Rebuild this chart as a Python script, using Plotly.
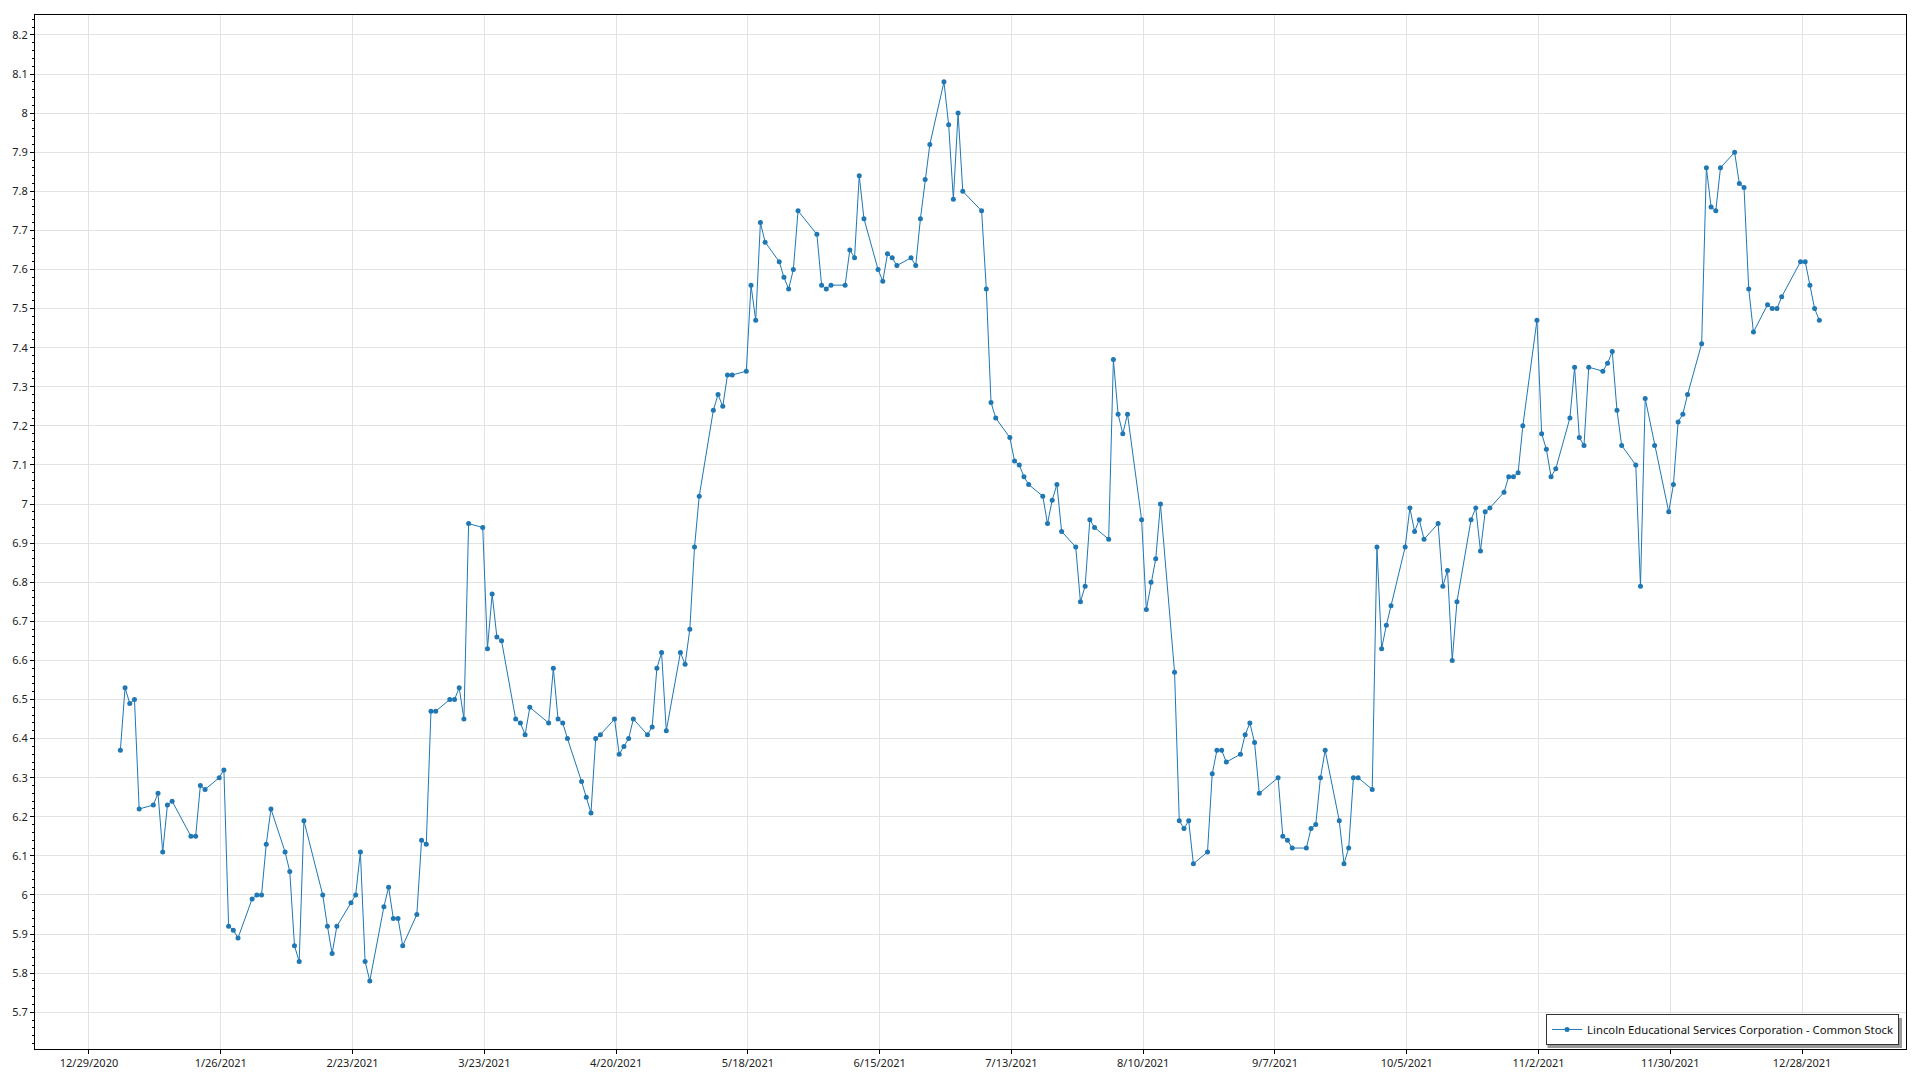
import plotly.graph_objects as go

# ---- data: closing prices by month (trading day, price) ----
jan_days = [4, 5, 6, 7, 8, 11, 12, 13, 14, 15, 19, 20, 21, 22, 25, 26, 27, 28, 29]
jan_close = [6.37, 6.53, 6.49, 6.50, 6.22, 6.23, 6.26, 6.11, 6.23, 6.24, 6.15, 6.15, 6.28, 6.27, 6.30, 6.32, 5.92, 5.91, 5.89]
feb_days = [1, 2, 3, 4, 5, 8, 9, 10, 11, 12, 16, 17, 18, 19, 22, 23, 24, 25, 26]
feb_close = [5.99, 6.00, 6.00, 6.13, 6.22, 6.11, 6.06, 5.87, 5.83, 6.19, 6.00, 5.92, 5.85, 5.92, 5.98, 6.00, 6.11, 5.83, 5.78]
mar_days = [1, 2, 3, 4, 5, 8, 9, 10, 11, 12, 15, 16, 17, 18, 19, 22, 23, 24, 25, 26, 29, 30, 31]
mar_close = [5.97, 6.02, 5.94, 5.94, 5.87, 5.95, 6.14, 6.13, 6.47, 6.47, 6.50, 6.50, 6.53, 6.45, 6.95, 6.94, 6.63, 6.77, 6.66, 6.65, 6.45, 6.44, 6.41]
apr_days = [1, 5, 6, 7, 8, 9, 12, 13, 14, 15, 16, 19, 20, 21, 22, 23, 26, 27, 28, 29, 30]
apr_close = [6.48, 6.44, 6.58, 6.45, 6.44, 6.40, 6.29, 6.25, 6.21, 6.40, 6.41, 6.45, 6.36, 6.38, 6.40, 6.45, 6.41, 6.43, 6.58, 6.62, 6.42]
may_days = [3, 4, 5, 6, 7, 10, 11, 12, 13, 14, 17, 18, 19, 20, 21, 24, 25, 26, 27, 28]
may_close = [6.62, 6.59, 6.68, 6.89, 7.02, 7.24, 7.28, 7.25, 7.33, 7.33, 7.34, 7.56, 7.47, 7.72, 7.67, 7.62, 7.58, 7.55, 7.60, 7.75]
jun_days = [1, 2, 3, 4, 7, 8, 9, 10, 11, 14, 15, 16, 17, 18, 21, 22, 23, 24, 25, 28, 29, 30]
jun_close = [7.69, 7.56, 7.55, 7.56, 7.56, 7.65, 7.63, 7.84, 7.73, 7.60, 7.57, 7.64, 7.63, 7.61, 7.63, 7.61, 7.73, 7.83, 7.92, 8.08, 7.97, 7.78]
jul_days = [1, 2, 6, 7, 8, 9, 12, 13, 14, 15, 16, 19, 20, 21, 22, 23, 26, 27, 28, 29, 30]
jul_close = [8.00, 7.80, 7.75, 7.55, 7.26, 7.22, 7.17, 7.11, 7.10, 7.07, 7.05, 7.02, 6.95, 7.01, 7.05, 6.93, 6.89, 6.75, 6.79, 6.96, 6.94]
aug_days = [2, 3, 4, 5, 6, 9, 10, 11, 12, 13, 16, 17, 18, 19, 20, 23, 24, 25, 26, 27, 30, 31]
aug_close = [6.91, 7.37, 7.23, 7.18, 7.23, 6.96, 6.73, 6.80, 6.86, 7.00, 6.57, 6.19, 6.17, 6.19, 6.08, 6.11, 6.31, 6.37, 6.37, 6.34, 6.36, 6.41]
sep_days = [1, 2, 3, 7, 8, 9, 10, 13, 14, 15, 16, 17, 20, 21, 22, 23, 24, 27, 28, 29, 30]
sep_close = [6.44, 6.39, 6.26, 6.30, 6.15, 6.14, 6.12, 6.12, 6.17, 6.18, 6.30, 6.37, 6.19, 6.08, 6.12, 6.30, 6.30, 6.27, 6.89, 6.63, 6.69]
oct_days = [1, 4, 5, 6, 7, 8, 11, 12, 13, 14, 15, 18, 19, 20, 21, 22, 25, 26, 27, 28, 29]
oct_close = [6.74, 6.89, 6.99, 6.93, 6.96, 6.91, 6.95, 6.79, 6.83, 6.60, 6.75, 6.96, 6.99, 6.88, 6.98, 6.99, 7.03, 7.07, 7.07, 7.08, 7.20]
nov_days = [1, 2, 3, 4, 5, 8, 9, 10, 11, 12, 15, 16, 17, 18, 19, 22, 23, 24, 26, 29, 30]
nov_close = [7.47, 7.18, 7.14, 7.07, 7.09, 7.22, 7.35, 7.17, 7.15, 7.35, 7.34, 7.36, 7.39, 7.24, 7.15, 7.10, 6.79, 7.27, 7.15, 6.98, 7.05]
dec_days = [1, 2, 3, 6, 7, 8, 9, 10, 13, 14, 15, 16, 17, 20, 21, 22, 23, 27, 28, 29, 30, 31]
dec_close = [7.21, 7.23, 7.28, 7.41, 7.86, 7.76, 7.75, 7.86, 7.90, 7.82, 7.81, 7.55, 7.44, 7.51, 7.50, 7.50, 7.53, 7.62, 7.62, 7.56, 7.50, 7.47]

x_tick_vals = ["2020-12-29", "2021-01-26", "2021-02-23", "2021-03-23", "2021-04-20",
               "2021-05-18", "2021-06-15", "2021-07-13", "2021-08-10", "2021-09-07",
               "2021-10-05", "2021-11-02", "2021-11-30", "2021-12-28"]
x_tick_text = ["12/29/2020", "1/26/2021", "2/23/2021", "3/23/2021", "4/20/2021",
               "5/18/2021", "6/15/2021", "7/13/2021", "8/10/2021", "9/7/2021",
               "10/5/2021", "11/2/2021", "11/30/2021", "12/28/2021"]
y_tick_vals = [5.7, 5.8, 5.9, 6.0, 6.1, 6.2, 6.3, 6.4, 6.5, 6.6, 6.7, 6.8, 6.9,
               7.0, 7.1, 7.2, 7.3, 7.4, 7.5, 7.6, 7.7, 7.8, 7.9, 8.0, 8.1, 8.2]
y_tick_text = ["5.7", "5.8", "5.9", "6", "6.1", "6.2", "6.3", "6.4", "6.5", "6.6", "6.7",
               "6.8", "6.9", "7", "7.1", "7.2", "7.3", "7.4", "7.5", "7.6", "7.7", "7.8",
               "7.9", "8", "8.1", "8.2"]

series_name = "Lincoln Educational Services Corporation - Common Stock"

months = [(1, jan_days, jan_close), (2, feb_days, feb_close), (3, mar_days, mar_close),
          (4, apr_days, apr_close), (5, may_days, may_close), (6, jun_days, jun_close),
          (7, jul_days, jul_close), (8, aug_days, aug_close), (9, sep_days, sep_close),
          (10, oct_days, oct_close), (11, nov_days, nov_close), (12, dec_days, dec_close)]

dates, prices = [], []
for m, ds, cs in months:
    for d, c in zip(ds, cs):
        dates.append(f"2021-{m:02d}-{d:02d} 16:00")  # market close time
        prices.append(c)

blue = "#1f77b4"
font = "Noto Sans, Open Sans, sans-serif"

fig = go.Figure()
fig.add_trace(go.Scatter(
    x=dates, y=prices, mode="lines+markers", name=series_name,
    line=dict(color=blue, width=1),
    marker=dict(color=blue, size=5),
    showlegend=True,
))

# page has an 8px body margin; figure sized to fit inside the 1920x1080 window
W, H = 1904, 1064
ml, mr, mt, mb = 27, 6, 7, 23

# soft drop shadow behind the legend box
fig.add_shape(type="rect", xref="paper", yref="paper",
              x0=0.8084, x1=0.99786, y0=0.001, y1=0.030,
              line=dict(width=0), fillcolor="#9a9a9a", layer="above")

fig.update_layout(
    width=W, height=H,
    margin=dict(l=ml, r=mr, t=mt, b=mb, pad=0, autoexpand=False),
    paper_bgcolor="white", plot_bgcolor="white",
    font=dict(family=font, size=11, color="#222222"),
    showlegend=True,
    legend=dict(
        x=0.9963, y=0.0039, xanchor="right", yanchor="bottom",
        bgcolor="white", bordercolor="#333333", borderwidth=1,
        font=dict(family=font, size=11.3, color="#111111"),
        itemwidth=30,
    ),
    xaxis=dict(
        type="date", automargin=False,
        range=["2020-12-17 12:43", "2022-01-19 02:00"],
        tickmode="array", tickvals=x_tick_vals, ticktext=x_tick_text,
        showgrid=True, gridcolor="#e3e3e3", gridwidth=1,
        showline=True, linecolor="black", linewidth=1, mirror=True,
        ticks="outside", ticklen=4, tickcolor="black",
        zeroline=False, tickfont=dict(size=11),
    ),
    yaxis=dict(
        automargin=False,
        range=[5.606, 8.251],
        tickmode="array", tickvals=y_tick_vals, ticktext=y_tick_text,
        showgrid=True, gridcolor="#e3e3e3", gridwidth=1,
        showline=True, linecolor="black", linewidth=1, mirror=True,
        ticks="outside", ticklen=4, tickcolor="black",
        zeroline=False, tickfont=dict(size=11),
        minor=dict(dtick=0.02, tick0=5.6, ticks="outside", ticklen=2, tickcolor="black", showgrid=False),
    ),
)

fig.write_html("out.html")
